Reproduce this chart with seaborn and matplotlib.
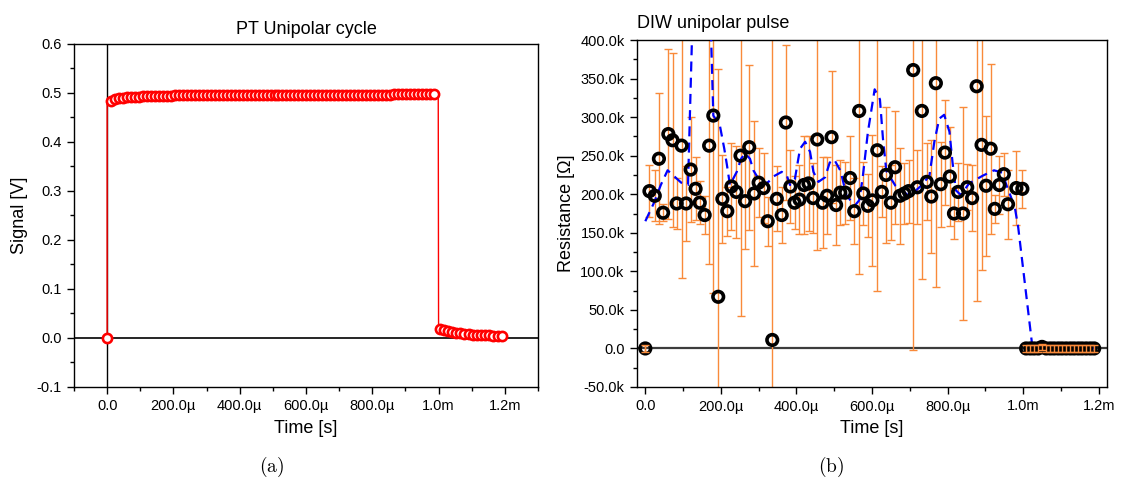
import matplotlib
matplotlib.use("Agg")
import matplotlib.pyplot as plt
import seaborn as sns
import numpy as np
from matplotlib.ticker import FixedLocator, MultipleLocator

# ---------------- data : panel (a) ----------------
sig_edge_t = [0.0, 0.0]            # onset of the pulse (ms)
sig_edge_v = [0.0, 0.478]
sig_fall_t = [0.999, 1.0]          # end of the pulse (ms)
sig_fall_v = [0.497, 0.020]

sig_zero_t = [0.0]
sig_zero_v = [0.0]

sig_top_t = [0.013, 0.025, 0.037, 0.049, 0.061, 0.073, 0.085, 0.097, 0.109, 0.121,
             0.133, 0.145, 0.157, 0.169, 0.181, 0.193, 0.205, 0.217, 0.229, 0.241,
             0.253, 0.265, 0.277, 0.289, 0.301, 0.313, 0.325, 0.337, 0.349, 0.361,
             0.373, 0.385, 0.397, 0.409, 0.421, 0.433, 0.445, 0.457, 0.469, 0.481,
             0.493, 0.505, 0.517, 0.529, 0.541, 0.553, 0.565, 0.577, 0.589, 0.601,
             0.613, 0.625, 0.637, 0.649, 0.661, 0.673, 0.685, 0.697, 0.709, 0.721,
             0.733, 0.745, 0.757, 0.769, 0.781, 0.793, 0.805, 0.817, 0.829, 0.841,
             0.853, 0.865, 0.877, 0.889, 0.901, 0.913, 0.925, 0.937, 0.949, 0.961,
             0.973, 0.987]
sig_top_v = [0.4826, 0.4868, 0.4887, 0.4899, 0.4908, 0.4915, 0.4921, 0.4926, 0.4930, 0.4934,
             0.4937, 0.4940, 0.4942, 0.4944, 0.4946, 0.4948, 0.4949, 0.4950, 0.4951, 0.4952,
             0.4953, 0.4954, 0.4955, 0.4955, 0.4956, 0.4957, 0.4957, 0.4958, 0.4958, 0.4959,
             0.4959, 0.4960, 0.4960, 0.4960, 0.4961, 0.4961, 0.4961, 0.4962, 0.4962, 0.4962,
             0.4963, 0.4963, 0.4963, 0.4963, 0.4964, 0.4964, 0.4964, 0.4964, 0.4965, 0.4965,
             0.4965, 0.4965, 0.4965, 0.4966, 0.4966, 0.4966, 0.4966, 0.4966, 0.4967, 0.4967,
             0.4967, 0.4967, 0.4967, 0.4967, 0.4968, 0.4968, 0.4968, 0.4968, 0.4968, 0.4968,
             0.4968, 0.4969, 0.4969, 0.4969, 0.4969, 0.4969, 0.4969, 0.4969, 0.4970, 0.4970,
             0.4970, 0.4970]

sig_tail_t = [1.003, 1.0155, 1.028, 1.0405, 1.053, 1.0655, 1.078, 1.0905,
              1.103, 1.1155, 1.128, 1.1405, 1.153, 1.1655, 1.178, 1.1905]
sig_tail_v = [0.0182, 0.0150, 0.0128, 0.0112, 0.0099, 0.0089, 0.0080, 0.0072,
              0.0066, 0.0060, 0.0055, 0.0050, 0.0046, 0.0042, 0.0038, 0.0035]

sig_xticks = [0.0, 0.2, 0.4, 0.6, 0.8, 1.0, 1.2]
sig_xlabels = ["0.0", "200.0\u00b5", "400.0\u00b5", "600.0\u00b5", "800.0\u00b5", "1.0m", "1.2m"]
sig_yticks = [-0.1, 0.0, 0.1, 0.2, 0.3, 0.4, 0.5, 0.6]
sig_ylabels = ["-0.1", "0.0", "0.1", "0.2", "0.3", "0.4", "0.5", "0.6"]

# ---------------- data : panel (b) ----------------
res_t = [0.000, 0.011, 0.025, 0.036, 0.047, 0.061, 0.072, 0.083, 0.096, 0.108,
         0.120, 0.133, 0.144, 0.157, 0.169, 0.180, 0.193, 0.204, 0.217, 0.228,
         0.241, 0.252, 0.264, 0.275, 0.288, 0.300, 0.313, 0.324, 0.336, 0.348,
         0.361, 0.372, 0.384, 0.395, 0.408, 0.420, 0.432, 0.444, 0.455, 0.469,
         0.481, 0.493, 0.505, 0.516, 0.529, 0.542, 0.553, 0.566, 0.577, 0.589,
         0.601, 0.614, 0.626, 0.637, 0.650, 0.661, 0.674, 0.686, 0.697, 0.709,
         0.720, 0.732, 0.745, 0.757, 0.769, 0.782, 0.793, 0.806, 0.817, 0.828,
         0.841, 0.852, 0.865, 0.877, 0.890, 0.902, 0.914, 0.925, 0.937, 0.949,
         0.960, 0.982, 0.998]
res_k = [0, 204, 198, 246, 176, 278, 270, 188, 263, 188,
         232, 207, 189, 173, 263, 302, 67, 194, 178, 210,
         203, 250, 191, 261, 201, 215, 208, 165, 11, 194,
         173, 293, 210, 189, 193, 212, 214, 195, 271, 189,
         198, 274, 186, 202, 202, 221, 178, 308, 201, 185,
         192, 257, 203, 225, 189, 235, 198, 201, 204, 361,
         209, 308, 216, 197, 344, 213, 254, 223, 175, 203,
         175, 209, 195, 340, 264, 211, 259, 181, 212, 226,
         187, 208, 207]
res_err_k = [4, 34, 33, 85, 11, 110, 113, 33, 171, 49,
             68, 41, 28, 25, 153, 230, 296, 57, 32, 56,
             60, 208, 62, 107, 94, 45, 45, 32, 420, 42,
             36, 100, 47, 34, 45, 64, 62, 45, 143, 59,
             50, 86, 52, 42, 40, 54, 43, 211, 41, 41,
             85, 183, 33, 88, 49, 73, 62, 40, 41, 363,
             48, 218, 50, 73, 264, 55, 68, 64, 33, 38,
             138, 30, 43, 278, 162, 91, 110, 18, 37, 28,
             45, 48, 25]

off_t = [1.008, 1.019, 1.029, 1.040, 1.050, 1.061, 1.072, 1.082, 1.093,
         1.103, 1.114, 1.125, 1.135, 1.146, 1.156, 1.167, 1.178, 1.188]
off_k = [0, 0, 0, 0, 2, 0, 0, 0, 0, 0, 0, 0, 0, 0, 0, 0, 0, 0]
off_err_k = [4, 4, 4, 4, 4, 4, 4, 4, 4, 4, 4, 4, 4, 4, 4, 4, 4, 4]

avg_t = [0.000, 0.024, 0.041, 0.059, 0.095, 0.113, 0.140, 0.165, 0.180, 0.197,
         0.209, 0.216, 0.224, 0.242, 0.2535, 0.264, 0.277, 0.286, 0.2995, 0.308,
         0.326, 0.339, 0.361, 0.374, 0.383, 0.396, 0.4095, 0.423, 0.436, 0.445,
         0.458, 0.476, 0.488, 0.500, 0.517, 0.532, 0.554, 0.566, 0.575, 0.589,
         0.607, 0.621, 0.629, 0.638, 0.662, 0.695, 0.703, 0.730, 0.752, 0.765,
         0.778, 0.791, 0.805, 0.813, 0.822, 0.835, 0.857, 0.893, 0.923, 0.945,
         0.955, 0.978, 0.987, 1.025, 1.190]
avg_k = [165, 190, 212, 231, 215, 212, 700, 560, 302, 290,
         259, 238, 212, 229, 246, 253, 246, 231, 220, 212,
         216, 223, 229, 225, 212, 220, 259, 268, 255, 229,
         216, 222, 241, 245, 230, 199, 185, 192, 220, 280,
         336, 323, 272, 230, 211, 199, 199, 211, 224, 268,
         298, 303, 281, 242, 205, 199, 214, 224, 231, 228,
         213, 183, 157, 0, 0]

res_yticks = [-50, 0, 50, 100, 150, 200, 250, 300, 350, 400]
res_ylabels = ["-50.0k", "0.0", "50.0k", "100.0k", "150.0k", "200.0k",
               "250.0k", "300.0k", "350.0k", "400.0k"]

# ---------------- style ----------------
sns.set_style("ticks")
plt.rcParams["font.family"] = ["Liberation Sans", "DejaVu Sans"]
plt.rcParams["mathtext.fontset"] = "cm"
plt.rcParams["axes.linewidth"] = 1.0
plt.rcParams["axes.edgecolor"] = "black"
plt.rcParams["text.color"] = "black"
plt.rcParams["axes.labelcolor"] = "black"
plt.rcParams["xtick.color"] = "black"
plt.rcParams["ytick.color"] = "black"

W, H = 1121, 496
fig = plt.figure(figsize=(W / 100, H / 100), dpi=100)
axL = fig.add_axes([74 / W, 1 - 386.7 / H, (538 - 74) / W, (386.7 - 44) / H])
axR = fig.add_axes([637 / W, 1 - 387 / H, (1107 - 637) / W, (387 - 40) / H])

TICK_FS = 10.5
LAB_FS = 13


def style_axis(ax):
    for s in ax.spines.values():
        s.set_visible(True)
        s.set_color("black")
        s.set_linewidth(1.0)
    ax.tick_params(which="both", direction="out", top=False, right=False,
                   colors="black", labelsize=TICK_FS, width=1.0)
    ax.tick_params(which="major", length=5, pad=4)
    ax.tick_params(which="minor", length=3)
    ax.grid(False)


# ---------------- panel (a) ----------------
axL.axhline(0, color="black", lw=1.2, zorder=1)
axL.axvline(0, color="black", lw=1.0, zorder=1)
line_t = sig_zero_t + sig_edge_t + sig_top_t + sig_fall_t + sig_tail_t
line_v = sig_zero_v + sig_edge_v + sig_top_v + sig_fall_v + sig_tail_v
sns.lineplot(x=line_t, y=line_v, sort=False, estimator=None, color="#ff0000",
             lw=1.0, ax=axL, zorder=2)
mk_t = sig_zero_t + sig_top_t + sig_tail_t
mk_v = sig_zero_v + sig_top_v + sig_tail_v
sns.scatterplot(x=mk_t, y=mk_v, marker="o", s=44, color="#ff0000",
                ax=axL, zorder=3)
coll = axL.collections[-1]
coll.set_facecolor("white")
coll.set_edgecolor("#ff0000")
coll.set_linewidth(1.9)

axL.set_xlim(-0.1, 1.3)
axL.set_ylim(-0.1, 0.6)
axL.xaxis.set_major_locator(FixedLocator(sig_xticks))
axL.set_xticklabels(sig_xlabels)
axL.xaxis.set_minor_locator(MultipleLocator(0.1))
axL.yaxis.set_major_locator(FixedLocator(sig_yticks))
axL.set_yticklabels(sig_ylabels)
axL.yaxis.set_minor_locator(MultipleLocator(0.05))
style_axis(axL)
axL.set_xlabel("Time [s]", fontsize=LAB_FS, labelpad=5)
axL.set_ylabel("Signal [V]", fontsize=LAB_FS, labelpad=6)
axL.set_title("PT Unipolar cycle", fontsize=LAB_FS, pad=7)

# ---------------- panel (b) ----------------
axR.axhline(0, color="#3c3c3c", lw=1.6, zorder=1)
axR.errorbar(res_t, res_k, yerr=res_err_k, fmt="none", ecolor="#f98a3a",
             elinewidth=1.0, capsize=3.2, capthick=1.0, zorder=2)
sns.lineplot(x=avg_t, y=avg_k, sort=False, estimator=None, color="#0000ff",
             lw=1.6, ax=axR, zorder=3)
axR.lines[-1].set_dashes([4.5, 2.8])
sns.scatterplot(x=res_t + off_t, y=res_k + off_k, marker="o", s=58,
                color="black", ax=axR, zorder=4)
c2 = axR.collections[-1]
c2.set_facecolor("none")
c2.set_edgecolor("black")
c2.set_linewidth(2.6)
axR.errorbar(off_t + [res_t[0]], off_k + [res_k[0]], yerr=off_err_k + [res_err_k[0]],
             fmt="none", ecolor="#f98a3a", elinewidth=1.0, capsize=3.2,
             capthick=1.0, zorder=5)

axR.set_xlim(-0.022, 1.222)
axR.set_ylim(-50, 400)
axR.xaxis.set_major_locator(FixedLocator(sig_xticks))
axR.set_xticklabels(sig_xlabels)
axR.xaxis.set_minor_locator(MultipleLocator(0.1))
axR.yaxis.set_major_locator(FixedLocator(res_yticks))
axR.set_yticklabels(res_ylabels)
axR.yaxis.set_minor_locator(MultipleLocator(25))
style_axis(axR)
axR.set_xlabel("Time [s]", fontsize=LAB_FS, labelpad=5)
axR.set_ylabel("Resistance [\u03a9]", fontsize=LAB_FS, labelpad=4)
axR.set_title("DIW unipolar pulse", fontsize=LAB_FS, loc="left", pad=9)

# ---------------- captions ----------------
fig.text(272 / W, 1 - 467 / H, r"$\mathrm{(a)}$", ha="center", va="center", fontsize=14)
fig.text(831 / W, 1 - 467 / H, r"$\mathrm{(b)}$", ha="center", va="center", fontsize=14)

fig.savefig("out.png", dpi=100, facecolor="white")
